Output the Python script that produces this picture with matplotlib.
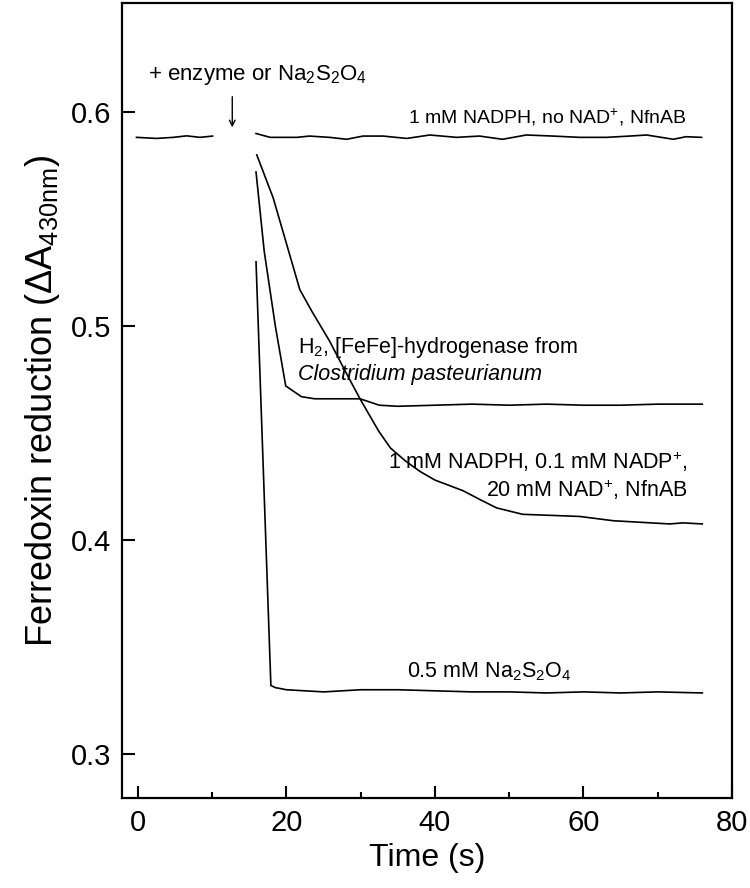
import matplotlib
matplotlib.use("Agg")
import matplotlib.pyplot as plt
from matplotlib.ticker import MultipleLocator

plt.rcParams['font.family'] = ['Liberation Sans', 'DejaVu Sans']
plt.rcParams['mathtext.fontset'] = 'custom'
plt.rcParams['mathtext.rm'] = 'Liberation Sans'
plt.rcParams['mathtext.it'] = 'Liberation Sans:italic'
plt.rcParams['mathtext.default'] = 'regular'

# --- data ---
nadph_only_t1 = [-0.2, 2.5, 4.75, 6.55, 8.35, 10.05]
nadph_only_v1 = [0.5882, 0.5877, 0.5882, 0.5889, 0.5882, 0.5888]
nadph_only_t2 = [15.9, 17.8, 21.4, 23.1, 25.8, 28.1, 30.3, 33.0, 36.2, 39.3, 42.9, 46.0,
                 49.1, 52.3, 55.9, 59.5, 63.1, 66.2, 68.5, 72.1, 73.8, 75.9]
nadph_only_v2 = [0.5900, 0.5882, 0.5882, 0.5888, 0.5882, 0.5873, 0.5888, 0.5888, 0.5877,
                 0.5893, 0.5882, 0.5888, 0.5873, 0.5893, 0.5888, 0.5882, 0.5882, 0.5888,
                 0.5893, 0.5873, 0.5885, 0.5882]

h2_t = [15.9, 17.0, 18.5, 19.9, 22.0, 23.8, 29.9, 32.5, 35, 40, 45, 50, 55, 60, 65, 70, 76]
h2_v = [0.572, 0.535, 0.500, 0.472, 0.467, 0.466, 0.466, 0.463, 0.4625, 0.463, 0.4635,
        0.463, 0.4635, 0.463, 0.463, 0.4635, 0.4635]

nfn_t = [16.0, 18.2, 21.8, 23.4, 25.8, 27.9, 29.9, 32.4, 34, 36, 38, 40.0, 43.8, 46.0,
         48.3, 51.8, 59.5, 64.0, 71.6, 73.4, 76.0]
nfn_v = [0.580, 0.560, 0.517, 0.507, 0.493, 0.479, 0.466, 0.451, 0.443, 0.437, 0.432,
         0.428, 0.423, 0.419, 0.415, 0.412, 0.411, 0.409, 0.4075, 0.408, 0.4075]

dith_t = [15.9, 17.9, 18.5, 20, 25, 30, 35, 40, 45, 50, 55, 60, 65, 70, 76]
dith_v = [0.530, 0.332, 0.331, 0.330, 0.329, 0.330, 0.330, 0.3295, 0.329, 0.329, 0.3285,
          0.329, 0.3285, 0.329, 0.3285]

xticks = [0, 20, 40, 60, 80]
yticks = [0.3, 0.4, 0.5, 0.6]

fig = plt.figure(figsize=(7.5, 8.88), dpi=100)
ax = fig.add_axes([122/750, 1-798/888, (732-122)/750, (798-3)/888])

lw = 1.2
for t, v in [(nadph_only_t1, nadph_only_v1), (nadph_only_t2, nadph_only_v2),
             (h2_t, h2_v), (nfn_t, nfn_v), (dith_t, dith_v)]:
    ax.plot(t, v, color='black', lw=lw)

ax.set_xlim(-2.15, 80)
ax.set_ylim(0.2794, 0.651)
ax.set_xticks(xticks)
ax.set_yticks(yticks)
ax.xaxis.set_minor_locator(MultipleLocator(10))
ax.tick_params(axis='both', which='major', direction='in', length=9, width=1.5,
               labelsize=21, pad=8)
ax.tick_params(axis='x', which='minor', direction='in', length=4.5, width=1.5)
ax.tick_params(axis='y', which='minor', left=False)
for s in ax.spines.values():
    s.set_linewidth(1.6)

ax.set_xlabel('Time (s)', fontsize=23, labelpad=4)
ax.set_ylabel(r'Ferredoxin reduction ($\Delta$A$_{430nm}$)', fontsize=26, labelpad=6)

fs = 15.5
ax.text(1.35, 0.6173, r'+ enzyme or Na$_2$S$_2$O$_4$', fontsize=16, va='center', ha='left')
ax.annotate('', xy=(12.7, 0.5916), xytext=(12.7, 0.6085),
            arrowprops=dict(arrowstyle='->', lw=1.0, color='black',
                            mutation_scale=10))
ax.text(73.9, 0.5977, r'1 mM NADPH, no NAD$^{+}$, NfnAB', fontsize=14,
        va='center', ha='right')
ax.text(21.5, 0.4900, r'H$_2$, [FeFe]-hydrogenase from', fontsize=fs,
        va='center', ha='left')
ax.text(21.5, 0.4775, 'Clostridium pasteurianum', fontsize=fs, style='italic',
        va='center', ha='left')
ax.text(74.0, 0.4364, r'1 mM NADPH, 0.1 mM NADP$^{+}$,', fontsize=fs,
        va='center', ha='right')
ax.text(74.0, 0.4234, r'20 mM NAD$^{+}$, NfnAB', fontsize=fs,
        va='center', ha='right')
ax.text(36.2, 0.3383, r'0.5 mM Na$_2$S$_2$O$_4$', fontsize=fs, va='center', ha='left')

fig.savefig('out.png', dpi=100)
